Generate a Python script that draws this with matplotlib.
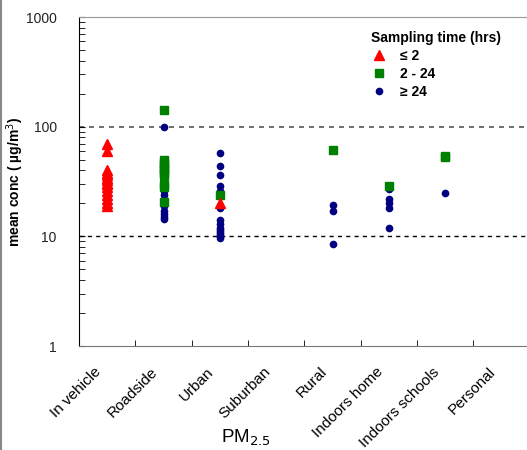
import matplotlib.pyplot as plt
from matplotlib.lines import Line2D
from matplotlib.transforms import ScaledTranslation
from matplotlib.ticker import LogLocator, FixedLocator, NullFormatter

categories = ['In vehicle', 'Roadside', 'Urban', 'Suburban', 'Rural',
              'Indoors home', 'Indoors schools', 'Personal']

# <= 2 hrs (red triangles)
tri_cat = ['In vehicle'] * 15 + ['Urban']
tri_val = [70, 60, 40, 38, 36, 34, 33, 31, 30, 28, 26, 24, 22, 20, 19, 20]

# 2 - 24 hrs (green squares)
sq_cat = (['Roadside'] * 11 + ['Urban', 'Rural', 'Indoors home']
          + ['Indoors schools'] * 2)
sq_val = [143, 50, 47, 45, 42, 40, 38, 36, 30, 28, 20.5,
          24, 62, 29, 54.5, 53]

# >= 24 hrs (navy circles)
circ_cat = (['In vehicle'] * 3 + ['Roadside'] * 8 + ['Urban'] * 14
            + ['Rural'] * 3 + ['Indoors home'] * 5 + ['Indoors schools'])
circ_val = [29, 23, 22,
            100, 26, 24, 19, 17, 16, 15, 14.5,
            58, 44, 36, 29, 26, 18, 14, 13, 12, 11.5, 11, 10.5, 10, 9.7,
            19.5, 17.2, 8.6,
            27, 22, 20, 18, 12,
            25]

plt.rcParams['font.family'] = ['Liberation Sans', 'DejaVu Sans']

fig = plt.figure(figsize=(5.27, 4.5), dpi=100)
ax = fig.add_axes([0.150, 0.231, 0.855, 0.731])

idx = {c: i for i, c in enumerate(categories)}
ax.plot([idx[c] for c in circ_cat], circ_val, 'o', color='#000080',
        markersize=4.5, linestyle='none', label='\u2265 24', zorder=3)
ax.plot([idx[c] for c in sq_cat], sq_val, 's', color='#008000',
        markersize=5.5, linestyle='none', label='2 - 24', zorder=4)
ax.plot([idx[c] for c in tri_cat], tri_val, '^', color='#ff0000',
        markersize=6.5, linestyle='none', label='\u2264 2', zorder=5)

ax.set_yscale('log')
ax.set_ylim(1, 1000)
ax.set_xlim(-0.5, 7.5)

ax.axhline(100, color='#555555', linestyle=(0, (3, 3)), linewidth=1.2, zorder=1)
ax.axhline(10, color='black', linestyle=(0, (3, 3)), linewidth=1, zorder=1)

ax.spines['right'].set_visible(False)
ax.spines['top'].set_color('#999999')
ax.spines['bottom'].set_color('#777777')
ax.spines['left'].set_color('black')

ax.set_xticks(range(len(categories)))
ax.xaxis.set_minor_locator(FixedLocator([i + 0.5 for i in range(7)]))
ax.tick_params(axis='x', which='major', length=0, pad=17)
ax.tick_params(axis='x', which='minor', direction='in', length=4, color='black')
ax.set_xticklabels(categories, rotation=45, ha='right', va='center',
                   rotation_mode='anchor', fontsize=11)
shift = ScaledTranslation(-8 / 100, 0, fig.dpi_scale_trans)
for lbl in ax.get_xticklabels():
    lbl.set_transform(lbl.get_transform() + shift)

ax.yaxis.set_major_locator(LogLocator(base=10))
ax.yaxis.set_minor_locator(LogLocator(base=10, subs=range(2, 10)))
ax.yaxis.set_minor_formatter(NullFormatter())
ax.set_yticks([1, 10, 100, 1000])
ax.set_yticklabels(['1', '10', '100', '1000'])
ax.tick_params(axis='y', which='both', direction='in', length=4, pad=16,
               labelsize=10, labelcolor='#222222')

ax.set_ylabel('mean conc ( \u00b5g/m$^{3}$)', fontweight='bold', fontsize=10)
ax.yaxis.set_label_coords(-0.118, 0.5)

fig.text(246 / 527, 1 - 438 / 450, 'PM$_{2.5}$', ha='center', va='center',
         fontsize=13.5)

handles, labels = ax.get_legend_handles_labels()
order = [2, 1, 0]
leg = ax.legend([handles[i] for i in order], [labels[i] for i in order],
                title='Sampling time (hrs)', frameon=False,
                loc='upper left', bbox_to_anchor=(365 / 527, 1 - 25 / 450),
                bbox_transform=fig.transFigure, handletextpad=0.9,
                labelspacing=0.3, borderaxespad=0, handlelength=1.2,
                prop={'weight': 'bold', 'size': 10})
leg.get_title().set_fontweight('bold')
leg.get_title().set_fontsize(10)
leg._legend_box.align = 'left'

fig.add_artist(Line2D([0.001, 0.001], [0, 1], color='#888888', linewidth=1.5))

fig.savefig('out.png', dpi=100)
